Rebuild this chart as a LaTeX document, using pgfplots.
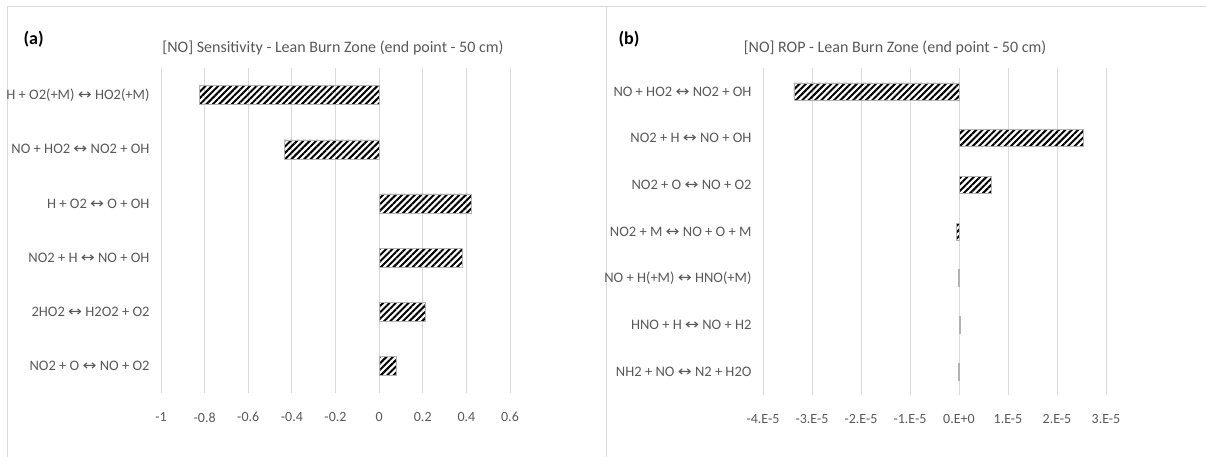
\documentclass[border=0pt]{standalone}
\usepackage{fontspec}
\setmainfont{Carlito}
\newfontfamily\dv{DejaVu Sans}
\usepackage{pgfplots}
\pgfplotsset{compat=1.18}
\usetikzlibrary{patterns.meta}
\definecolor{txt}{HTML}{595959}
\definecolor{grd}{HTML}{D9D9D9}
\newcommand{\arr}{\scalebox{1.15}[1]{\dv ↔}}
\pgfplotsset{
  myax/.style={
    scale only axis,
    y dir=reverse,
    xmajorgrids,
    major grid style={grd, line width=0.8pt},
    axis line style={draw=none},
    tick style={draw=none},
    scaled x ticks=false,
    xticklabel style={font=\fontsize{14}{16}\selectfont, text=txt, yshift=-16pt},
    yticklabel style={font=\fontsize{14.5}{17}\selectfont, text=txt, xshift=-8pt},
    ytick=data,
  },
  hb/.style={xbar, bar width=19pt, draw=gray!60, line width=0.5pt,
    pattern={Lines[angle=45,distance=4.5pt,line width=2pt]}},
}
\begin{document}
\begin{tikzpicture}[x=1pt,y=1pt]
\path[use as bounding box] (0,0) rectangle (1206,-457);
\draw[grd, line width=0.8pt] (7,-6) -- (1206,-6);
\draw[grd, line width=0.8pt] (7,-6) -- (7,-457);
\draw[grd, line width=0.8pt] (606,-6) -- (606,-457);

% Panel (a)
\begin{axis}[myax,
  at={(161pt,-393pt)}, anchor=south west,
  width=349pt, height=325pt,
  xmin=-1, xmax=0.6, ymin=-0.5, ymax=5.5,
  xtick={-1,-0.8,-0.6,-0.4,-0.2,0,0.2,0.4,0.6},
  xticklabels={-1,-0.8,-0.6,-0.4,-0.2,0,0.2,0.4,0.6},
  yticklabels={H + O2(+M) \arr{} HO2(+M), NO + HO2 \arr{} NO2 + OH, H + O2 \arr{} O + OH, NO2 + H \arr{} NO + OH, 2HO2 \arr{} H2O2 + O2, NO2 + O \arr{} NO + O2},
]
\addplot[hb] coordinates {(-0.825,0) (-0.436,1) (0.422,2) (0.381,3) (0.211,4) (0.078,5)};
\end{axis}

% Panel (b)
\begin{axis}[myax,
  at={(763pt,-395pt)}, anchor=south west,
  width=343pt, height=327pt,
  xmin=-4e-5, xmax=3e-5, ymin=-0.5, ymax=6.5,
  xtick={-4e-5,-3e-5,-2e-5,-1e-5,0,1e-5,2e-5,3e-5},
  xticklabels={-4.E-5,-3.E-5,-2.E-5,-1.E-5,0.E+0,1.E-5,2.E-5,3.E-5},
  yticklabels={NO + HO2 \arr{} NO2 + OH, NO2 + H \arr{} NO + OH, NO2 + O \arr{} NO + O2, NO2 + M \arr{} NO + O + M, NO + H(+M) \arr{} HNO(+M), HNO + H \arr{} NO + H2, NH2 + NO \arr{} N2 + H2O},
]
\addplot[hb, bar width=17pt] coordinates {(-3.37e-5,0) (2.53e-5,1) (0.65e-5,2) (-0.05e-5,3) (-0.02e-5,4) (0.02e-5,5) (-0.02e-5,6)};
\end{axis}

\node[font=\fontsize{18}{20}\selectfont\bfseries, anchor=west] at (20,-39) {(a)};
\node[font=\fontsize{16}{19}\selectfont, text=txt] at (333,-48) {[NO] Sensitivity - Lean Burn Zone (end point - 50 cm)};
\node[font=\fontsize{18}{20}\selectfont\bfseries, anchor=west] at (615,-39) {(b)};
\node[font=\fontsize{16}{19}\selectfont, text=txt] at (895,-48) {[NO] ROP - Lean Burn Zone (end point - 50 cm)};
\end{tikzpicture}
\end{document}
